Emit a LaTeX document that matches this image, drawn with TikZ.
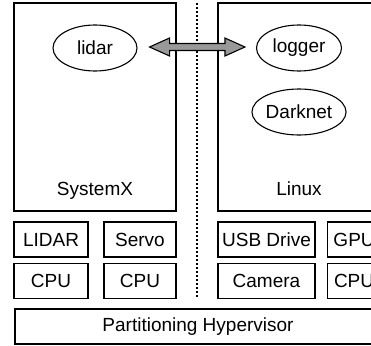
\documentclass[tikz,border=0pt]{standalone}
\usepackage{fontspec}
\setmainfont{Liberation Sans}
\usetikzlibrary{shapes.geometric,positioning,calc}

\begin{document}
\begin{tikzpicture}[x=1pt, y=-1pt, line width=1.1pt, font=\fontsize{19}{22}\selectfont,
	partbox/.style={draw, rectangle, inner sep=0, minimum width=162, minimum height=208},
	devbox/.style={draw, rectangle, inner sep=0, minimum height=35},
	task/.style={draw, ellipse, inner sep=0, minimum width=85, minimum height=46},
	divider/.style={dash pattern=on 2pt off 2pt},
	link/.style={draw, fill=gray!80, line join=miter}]
				\clip (0,0) rectangle (371,345);
				\node [partbox] (sysx) at (95,107) {};
				\node [partbox] (linux) at (299,107) {};
				\node [anchor=base] (sysxname) at (95,195) {SystemX};
				\node [anchor=base] (linuxname) at (299,195) {Linux};
				\node [task, minimum width=84] (lidar) at (95,48) {lidar};
				\node [task] (logger) at (299,48) {logger};
				\node [task] (darknet) at (299,112) {Darknet};
				\node [devbox, minimum width=74] (lidardev) at (51,239.5) {LIDAR};
				\node [devbox, minimum width=72] (servo) at (140,239.5) {Servo};
				\node [devbox, minimum width=74] (cpua) at (51,281) {CPU};
				\node [devbox, minimum width=72] (cpub) at (140,281) {CPU};
				\node [devbox, minimum width=97] (usb) at (266.5,239.5) {USB Drive};
				\node [devbox, minimum width=97] (camera) at (266.5,281) {Camera};
				\node [devbox, minimum width=53, anchor=west] (gpu) at (327,239.5) {GPU};
				\node [devbox, minimum width=53, anchor=west] (cpuc) at (327,281) {CPU};
				\node [devbox, minimum width=366] (hyper) at (198,326.5) {Partitioning Hypervisor};
				\coordinate (divtop) at (197,3);
				\coordinate (divbot) at (197,298);
				\draw [divider] (divtop) -- (divbot);
				\coordinate (linka) at ($(lidar.east)+(12,-1)$);
				\coordinate (linkb) at ($(logger.west)+(-11,-1)$);
				\draw [link] (linka) -- ++(20,-9) -- ++(0,5.5) -- ($(linkb)+(-20,-3.5)$) -- ++(0,-5.5) -- (linkb)
					-- ++(-20,9) -- ++(0,-5.5) -- ($(linka)+(20,3.5)$) -- ++(0,5.5) -- cycle;
\end{tikzpicture}
\end{document}
